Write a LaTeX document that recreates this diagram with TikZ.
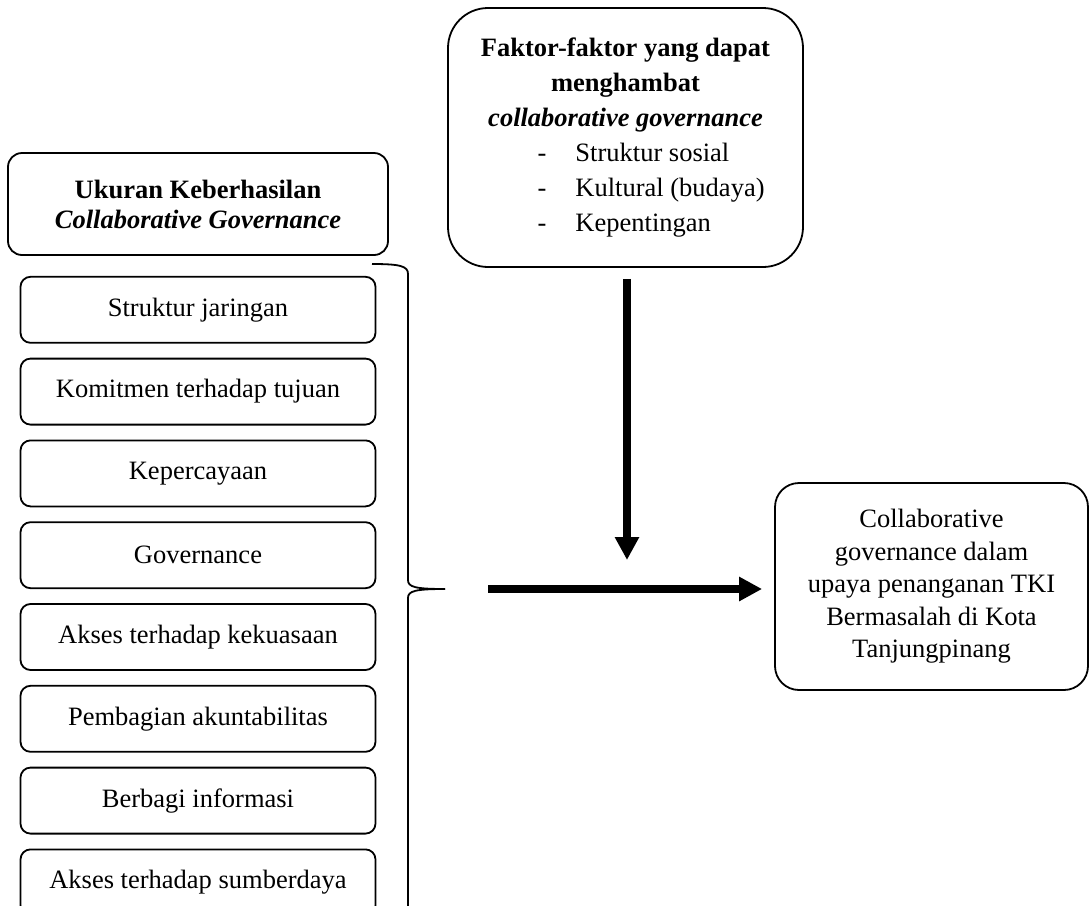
\documentclass[tikz,border=0pt]{standalone}
\usepackage{fontspec}
\setmainfont{Liberation Serif}
\usetikzlibrary{arrows.meta,positioning}
\newcommand{\faktoritem}[1]{\makebox[88pt][l]{\makebox[19pt][l]{-}#1}}

\begin{document}
\begin{tikzpicture}[x=0.5pt, y=-0.5pt, node distance=7pt, font=\fontsize{13.25pt}{16pt}\selectfont]
\tikzstyle{box}=[rectangle, rounded corners=5pt, draw=black, line width=0.9pt, minimum height=33pt, minimum width=177.5pt, align=center]
\tikzstyle{arrow}=[-{Triangle[width=11.5pt,length=11.5pt]}, line width=4pt]
\useasboundingbox (0,0) rectangle (1089,906);
\node (ukur) [box, minimum width=190pt, minimum height=51pt, rounded corners=7pt, font=\fontsize{13.25pt}{15pt}\selectfont\bfseries] at (198,204) {Ukuran Keberhasilan\\\textit{Collaborative Governance}};
\node (s1) [box, below=10pt of ukur] {Struktur jaringan};
\node (s2) [box, below=of s1] {Komitmen terhadap tujuan};
\node (s3) [box, below=of s2] {Kepercayaan};
\node (s4) [box, below=of s3] {Governance};
\node (s5) [box, below=of s4] {Akses terhadap kekuasaan};
\node (s6) [box, below=of s5] {Pembagian akuntabilitas};
\node (s7) [box, below=of s6] {Berbagi informasi};
\node (s8) [box, below=of s7] {Akses terhadap sumberdaya};
\node (fak) [box, minimum height=129.5pt, rounded corners=20pt, font=\fontsize{13.25pt}{17.5pt}\selectfont] at (625.5,137.5) {\textbf{Faktor-faktor yang dapat}\\\textbf{menghambat}\\\textbf{\textit{collaborative governance}}\\\faktoritem{Struktur sosial}\\\faktoritem{Kultural (budaya)}\\\faktoritem{Kepentingan}};
\node (hasil) [box, minimum width=156.5pt, minimum height=103.5pt, rounded corners=12pt, font=\fontsize{13.25pt}{16.25pt}\selectfont] at (931.5,586.5) {Collaborative\\governance dalam\\upaya penanganan TKI\\Bermasalah di Kota\\Tanjungpinang};
% kurung kurawal
\coordinate (tip) at (445,589);
\coordinate (drop) at (627,560);
\draw[line width=0.9pt] (372,264) .. controls (400,264) and (408,266) .. (408,274) -- (408,580) .. controls (408,587) and (415,589) .. (tip);
\draw[line width=0.9pt] (tip) .. controls (415,589) and (408,591) .. (408,598) -- (408,906);
\draw[arrow, shorten <=5.5pt] (fak.south -| drop) -- (drop);
\draw[arrow, shorten <=21.5pt, shorten >=6pt] (tip) -- (tip -| hasil.west);
\end{tikzpicture}
\end{document}
